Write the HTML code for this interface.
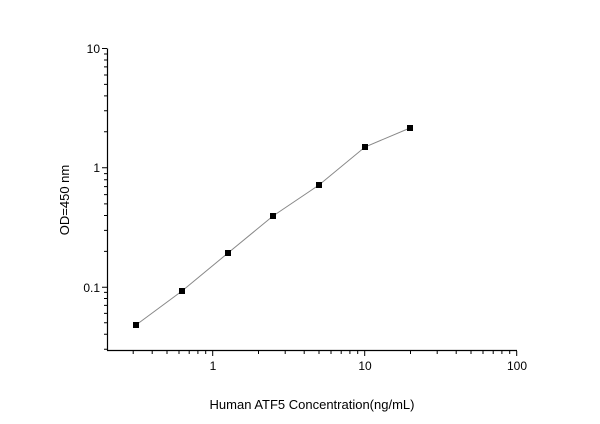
<!DOCTYPE html>
<html><head><style>body{margin:0;background:#fff}</style></head><body>
<svg width="600" height="419" xmlns="http://www.w3.org/2000/svg" font-family="Liberation Sans, Arial, sans-serif">
<rect width="600" height="419" fill="#fff"/>
<g stroke="#000" stroke-width="1.2" fill="none">
<line x1="107.5" y1="48.5" x2="107.5" y2="350.5"/>
<line x1="107" y1="350.5" x2="517" y2="350.5"/>
</g>
<g stroke="#000" stroke-width="1">
<path d="M107 48.5H102M107 167.7H102M107 287.3H102
M107 349.2H104M107 334.3H104M107 322.8H104M107 313.4H104M107 305.4H104M107 298.5H104M107 292.4H104
M107 251.4H104M107 230.4H104M107 215.5H104M107 203.9H104M107 194.6H104M107 186.6H104M107 179.7H104M107 173.6H104
M107 131.8H104M107 110.8H104M107 95.9H104M107 84.4H104M107 75H104M107 66.9H104M107 60H104M107 54H104"/>
<path d="M212.7 351V356M364.7 351V356M516.7 351V356
M133.2 351V354M152.2 351V354M167 351V354M179 351V354M189.2 351V354M197.9 351V354M205.7 351V354
M258.5 351V354M285.2 351V354M304.2 351V354M319 351V354M331 351V354M341.2 351V354M349.9 351V354M357.7 351V354
M410.5 351V354M437.2 351V354M456.2 351V354M471 351V354M483 351V354M493.2 351V354M501.9 351V354M509.7 351V354"/>
</g>
<polyline points="136,325 182,291 228,253 273,216 319,185 365,147 410,128" fill="none" stroke="#888" stroke-width="1"/>
<g fill="#000">
<rect x="133" y="322" width="6" height="6"/><rect x="179" y="288" width="6" height="6"/>
<rect x="225" y="250" width="6" height="6"/><rect x="270" y="213" width="6" height="6"/>
<rect x="316" y="182" width="6" height="6"/><rect x="362" y="144" width="6" height="6"/>
<rect x="407" y="125" width="6" height="6"/>
</g>
<g font-size="12" fill="#000">
<text x="100" y="53" text-anchor="end">10</text>
<text x="100" y="172" text-anchor="end">1</text>
<text x="100" y="292" text-anchor="end">0.1</text>
<text x="213" y="370" text-anchor="middle">1</text>
<text x="365" y="370" text-anchor="middle">10</text>
<text x="517" y="370" text-anchor="middle">100</text>
</g>
<text x="312" y="409" font-size="13" text-anchor="middle">Human ATF5 Concentration(ng/mL)</text>
<text transform="translate(69,200) rotate(-90)" font-size="13" text-anchor="middle">OD=450 nm</text>
</svg>
</body></html>
